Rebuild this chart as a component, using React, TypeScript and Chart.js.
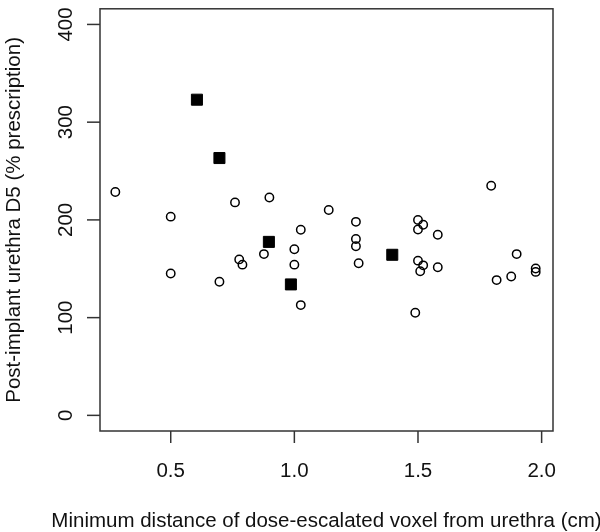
import React, { useEffect, useRef } from "react";
import { Chart, registerables } from "chart.js";

Chart.register(...registerables);

// Open circles
const circleX = [
  0.276, 0.5, 0.76, 0.777, 0.79, 0.5, 0.697,
  0.899, 1.139, 1.249, 1.026, 1.249, 1.249, 1.0, 0.877, 1.0, 1.26, 1.026,
  1.796, 1.5, 1.521, 1.5, 1.58, 1.899, 1.5, 1.521, 1.509, 1.58, 1.877, 1.818, 1.976, 1.976, 1.489,
];
const circleY = [
  228.6, 203.3, 217.9, 159.6, 154.2, 145.2, 136.7,
  222.9, 210.1, 198, 189.9, 180.5, 173, 170, 165, 154.2, 155.6, 112.8,
  235, 200, 195, 190.2, 184.8, 165, 158.3, 153.5, 147.5, 151.5, 142.1, 138.4, 150.2, 146.8, 105,
];
// Filled squares
const squareX = [0.606, 0.697, 0.897, 0.986, 1.396];
const squareY = [323, 263.3, 177.5, 134, 164.3];

const xTicks = [0.5, 1.0, 1.5, 2.0];
const xTickLabels = ["0.5", "1.0", "1.5", "2.0"];
const yTicks = [0, 100, 200, 300, 400];
const yTickLabels = ["0", "100", "200", "300", "400"];

const xTitle = "Minimum distance of dose-escalated voxel from urethra (cm)";
const yTitle = "Post-implant urethra D5 (% prescription)";

const FONT = "Arial, 'Liberation Sans', Helvetica, sans-serif";

const rAxesPlugin = {
  id: "rAxes",
  afterDraw(chart: any) {
    const { ctx, chartArea } = chart;
    const xs = chart.scales.x;
    const ys = chart.scales.y;
    const { left, right, top, bottom } = chartArea;
    ctx.save();
    ctx.strokeStyle = "#333";
    ctx.lineWidth = 1.5;
    ctx.strokeRect(left, top, right - left, bottom - top);
    ctx.fillStyle = "#111";
    ctx.font = `20.5px ${FONT}`;
    // x ticks
    xTicks.forEach((v, i) => {
      const px = xs.getPixelForValue(v);
      ctx.beginPath();
      ctx.moveTo(px, bottom);
      ctx.lineTo(px, bottom + 12);
      ctx.stroke();
      ctx.textAlign = "center";
      ctx.textBaseline = "alphabetic";
      ctx.fillText(xTickLabels[i], px, 477);
    });
    // y ticks
    yTicks.forEach((v, i) => {
      const py = ys.getPixelForValue(v);
      ctx.beginPath();
      ctx.moveTo(left, py);
      ctx.lineTo(left - 13, py);
      ctx.stroke();
      ctx.save();
      ctx.translate(72, py);
      ctx.rotate(-Math.PI / 2);
      ctx.textAlign = "center";
      ctx.textBaseline = "alphabetic";
      ctx.fillText(yTickLabels[i], 0, 0);
      ctx.restore();
    });
    // titles
    ctx.textAlign = "center";
    ctx.textBaseline = "alphabetic";
    ctx.fillText(xTitle, (left + right) / 2, 527);
    ctx.save();
    ctx.translate(20, (top + bottom) / 2);
    ctx.rotate(-Math.PI / 2);
    ctx.fillText(yTitle, 0, 0);
    ctx.restore();
    ctx.restore();
  },
};

export default function App() {
  const ref = useRef<HTMLCanvasElement>(null);
  useEffect(() => {
    if (!ref.current) return;
    const chart = new Chart(ref.current, {
      type: "scatter",
      data: {
        datasets: [
          {
            label: "circles",
            data: circleX.map((x, i) => ({ x, y: circleY[i] })),
            pointStyle: "circle",
            pointRadius: 4.2,
            pointBorderWidth: 1.5,
            pointBorderColor: "#000",
            pointBackgroundColor: "rgba(255,255,255,0)",
          },
          {
            label: "squares",
            data: squareX.map((x, i) => ({ x, y: squareY[i] })),
            pointStyle: "rect",
            pointRadius: 7.8,
            pointBorderWidth: 1,
            pointBorderColor: "#000",
            pointBackgroundColor: "#000",
          },
        ],
      },
      options: {
        animation: false,
        responsive: false,
        maintainAspectRatio: false,
        layout: { padding: { left: 100, right: 47, top: 3, bottom: 101 } },
        plugins: { legend: { display: false }, tooltip: { enabled: false } },
        scales: {
          x: { type: "linear", min: 0.214, max: 2.046, display: false },
          y: { type: "linear", min: -16, max: 416, display: false },
        },
      },
      plugins: [rAxesPlugin],
    });
    return () => chart.destroy();
  }, []);
  return (
    <div style={{ position: "absolute", left: 0, top: 0, width: 600, height: 532, background: "#fff" }}>
      <canvas ref={ref} width={600} height={532} style={{ width: 600, height: 532 }} />
    </div>
  );
}
